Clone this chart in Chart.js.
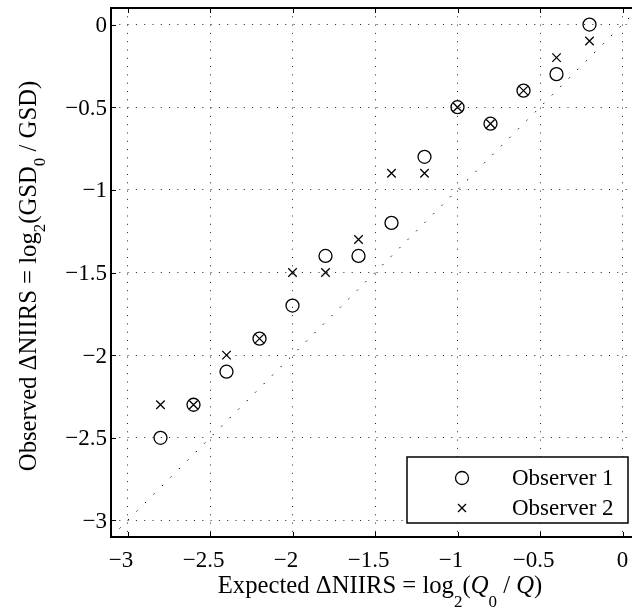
<!DOCTYPE html>
<html lang="en">
<head>
    <meta charset="UTF-8">
    <title>Observed vs expected NIIRS</title>
    <script src="https://cdn.jsdelivr.net/npm/chart.js@4.4.1/dist/chart.umd.min.js"></script>
    <style>
        html, body {
            margin: 0;
            padding: 0;
            background: #fff;
            overflow: hidden;
        }
        #wrap {
            width: 640px;
            height: 610px;
        }
    </style>
</head>
<body>
<div id="wrap">
    <canvas id="myChart" width="640" height="610"></canvas>
</div>

<script>
    // values
    var expected = [-2.8, -2.6, -2.4, -2.2, -2.0, -1.8, -1.6, -1.4, -1.2, -1.0, -0.8, -0.6, -0.4, -0.2];
    var observer1 = [-2.5, -2.3, -2.1, -1.9, -1.7, -1.4, -1.4, -1.2, -0.8, -0.5, -0.6, -0.4, -0.3, 0.0];
    var observer2 = [-2.3, -2.3, -2.0, -1.9, -1.5, -1.5, -1.3, -0.9, -0.9, -0.5, -0.6, -0.4, -0.2, -0.1];
    var tickValues = [-3, -2.5, -2, -1.5, -1, -0.5, 0];
    var axisMin = -3.1;
    var axisMax = 0.1;
    var seriesNames = ["Observer 1", "Observer 2"];

    var FONT = "'Liberation Serif', 'Times New Roman', serif";
    var MINUS = "\u2212";

    function pts(xs, ys) {
        var out = [];
        for (var i = 0; i < xs.length; i++) {
            out.push({x: xs[i], y: ys[i]});
        }
        return out;
    }

    // text pieces: [text, style] where style is '', 'sub' or 'it'
    var xTitle = [["Expected \u0394NIIRS = log", ""], ["2", "sub"], ["(", ""], ["Q", "it"], ["0", "sub"], [" / ", ""], ["Q", "it"], [")", ""]];
    var yTitle = [["Observed \u0394NIIRS = log", ""], ["2", "sub"], ["(GSD", ""], ["0", "sub"], [" / GSD)", ""]];

    function setFont(ctx, style) {
        if (style == "sub") ctx.font = "17px " + FONT;
        else if (style == "it") ctx.font = "italic 24.7px " + FONT;
        else ctx.font = "24.7px " + FONT;
    }

    function drawRich(ctx, parts, cx, baseline, subShift) {
        var total = 0;
        for (var i = 0; i < parts.length; i++) {
            setFont(ctx, parts[i][1]);
            total += ctx.measureText(parts[i][0]).width;
        }
        var x = cx - total / 2;
        ctx.textAlign = "left";
        ctx.textBaseline = "alphabetic";
        for (var j = 0; j < parts.length; j++) {
            setFont(ctx, parts[j][1]);
            var dy = parts[j][1] == "sub" ? subShift : 0;
            ctx.fillText(parts[j][0], x, baseline + dy);
            x += ctx.measureText(parts[j][0]).width;
        }
    }

    var framePlugin = {
        id: "frame",
        afterDraw: function (chart) {
            var ctx = chart.ctx;
            var a = chart.chartArea;
            var xs = chart.scales.x;
            var ys = chart.scales.y;
            ctx.save();
            ctx.strokeStyle = "#000";
            ctx.fillStyle = "#000";

            // box round the axes
            ctx.lineWidth = 2;
            ctx.strokeRect(a.left, a.top, a.right - a.left, a.bottom - a.top);

            // inward ticks
            ctx.lineWidth = 1;
            ctx.beginPath();
            tickValues.forEach(function (v) {
                var px = Math.round(xs.getPixelForValue(v)) + 0.5;
                ctx.moveTo(px, a.bottom);
                ctx.lineTo(px, a.bottom - 5);
                ctx.moveTo(px, a.top);
                ctx.lineTo(px, a.top + 5);
                var py = Math.round(ys.getPixelForValue(v)) + 0.5;
                ctx.moveTo(a.left, py);
                ctx.lineTo(a.left + 5, py);
                ctx.moveTo(a.right, py);
                ctx.lineTo(a.right - 5, py);
            });
            ctx.stroke();

            // tick labels: digits centred under the tick, minus hangs left
            ctx.font = "23px " + FONT;
            ctx.textBaseline = "alphabetic";
            tickValues.forEach(function (v) {
                var digits = String(Math.abs(v));
                var px = xs.getPixelForValue(v);
                var w = ctx.measureText(digits).width;
                ctx.textAlign = "left";
                ctx.fillText(digits, px - w / 2, a.bottom + 30);
                if (v < 0) {
                    ctx.textAlign = "right";
                    ctx.fillText(MINUS, px - w / 2, a.bottom + 30);
                }
                var py = ys.getPixelForValue(v);
                ctx.textAlign = "right";
                ctx.fillText((v < 0 ? MINUS : "") + digits, a.left - 4, py + 7.5);
            });

            // axis titles
            drawRich(ctx, xTitle, 380, 593, 14);
            ctx.save();
            ctx.translate(36, 276);
            ctx.rotate(-Math.PI / 2);
            drawRich(ctx, yTitle, 0, 0, 9);
            ctx.restore();

            // legend in the lower right corner
            var lx = 407, ly = 457, lw = 221, lh = 66;
            ctx.fillStyle = "#fff";
            ctx.fillRect(lx, ly, lw, lh);
            ctx.lineWidth = 1.5;
            ctx.strokeRect(lx, ly, lw, lh);
            ctx.fillStyle = "#000";
            ctx.font = "23px " + FONT;
            ctx.textAlign = "left";
            ctx.textBaseline = "middle";
            var rows = [478, 508];
            ctx.lineWidth = 1.3;
            ctx.beginPath();
            ctx.arc(462, rows[0], 6.5, 0, Math.PI * 2);
            ctx.stroke();
            ctx.beginPath();
            ctx.moveTo(458, rows[1] - 4);
            ctx.lineTo(466, rows[1] + 4);
            ctx.moveTo(466, rows[1] - 4);
            ctx.lineTo(458, rows[1] + 4);
            ctx.stroke();
            ctx.fillText(seriesNames[0], 512, rows[0] + 1);
            ctx.fillText(seriesNames[1], 512, rows[1] + 1);
            ctx.restore();
        }
    };

    function axis(extra) {
        var s = {
            type: "linear",
            min: axisMin,
            max: axisMax,
            afterBuildTicks: function (scale) {
                scale.ticks = tickValues.map(function (v) { return {value: v}; });
            },
            grid: {
                color: "#222",
                lineWidth: 1,
                drawTicks: false
            },
            border: {
                display: false,
                dash: [1, 7.3]
            },
            ticks: {
                display: false
            }
        };
        for (var k in extra) s[k] = extra[k];
        return s;
    }

    var ctx = document.getElementById("myChart");
    var myChart = new Chart(ctx, {
        type: "scatter",
        data: {
            datasets: [
                {
                    label: "diag",
                    type: "line",
                    data: pts([axisMin, axisMax], [axisMin, axisMax]),
                    borderColor: "#000",
                    borderWidth: 1,
                    borderDash: [1.5, 10.5],
                    pointRadius: 0,
                    fill: false
                },
                {
                    label: seriesNames[0],
                    data: pts(expected, observer1),
                    pointStyle: "circle",
                    pointRadius: 6.5,
                    pointBorderWidth: 1.3,
                    borderColor: "#000",
                    backgroundColor: "rgba(0,0,0,0)"
                },
                {
                    label: seriesNames[1],
                    data: pts(expected, observer2),
                    pointStyle: "crossRot",
                    pointRadius: 6,
                    pointBorderWidth: 1.3,
                    borderColor: "#000",
                    backgroundColor: "rgba(0,0,0,0)"
                }
            ]
        },
        options: {
            responsive: false,
            maintainAspectRatio: false,
            animation: false,
            layout: {
                autoPadding: false,
                padding: {left: 0, right: 1, top: 8, bottom: 0}
            },
            plugins: {
                legend: {display: false},
                tooltip: {enabled: false}
            },
            scales: {
                x: axis({
                    position: "bottom",
                    afterFit: function (scale) {
                        scale.height = 73;
                        scale.paddingLeft = 0;
                        scale.paddingRight = 0;
                    }
                }),
                y: axis({
                    position: "left",
                    afterFit: function (scale) {
                        scale.width = 111;
                        scale.paddingTop = 0;
                        scale.paddingBottom = 0;
                    }
                })
            }
        },
        plugins: [framePlugin]
    });
</script>
</body>
</html>
